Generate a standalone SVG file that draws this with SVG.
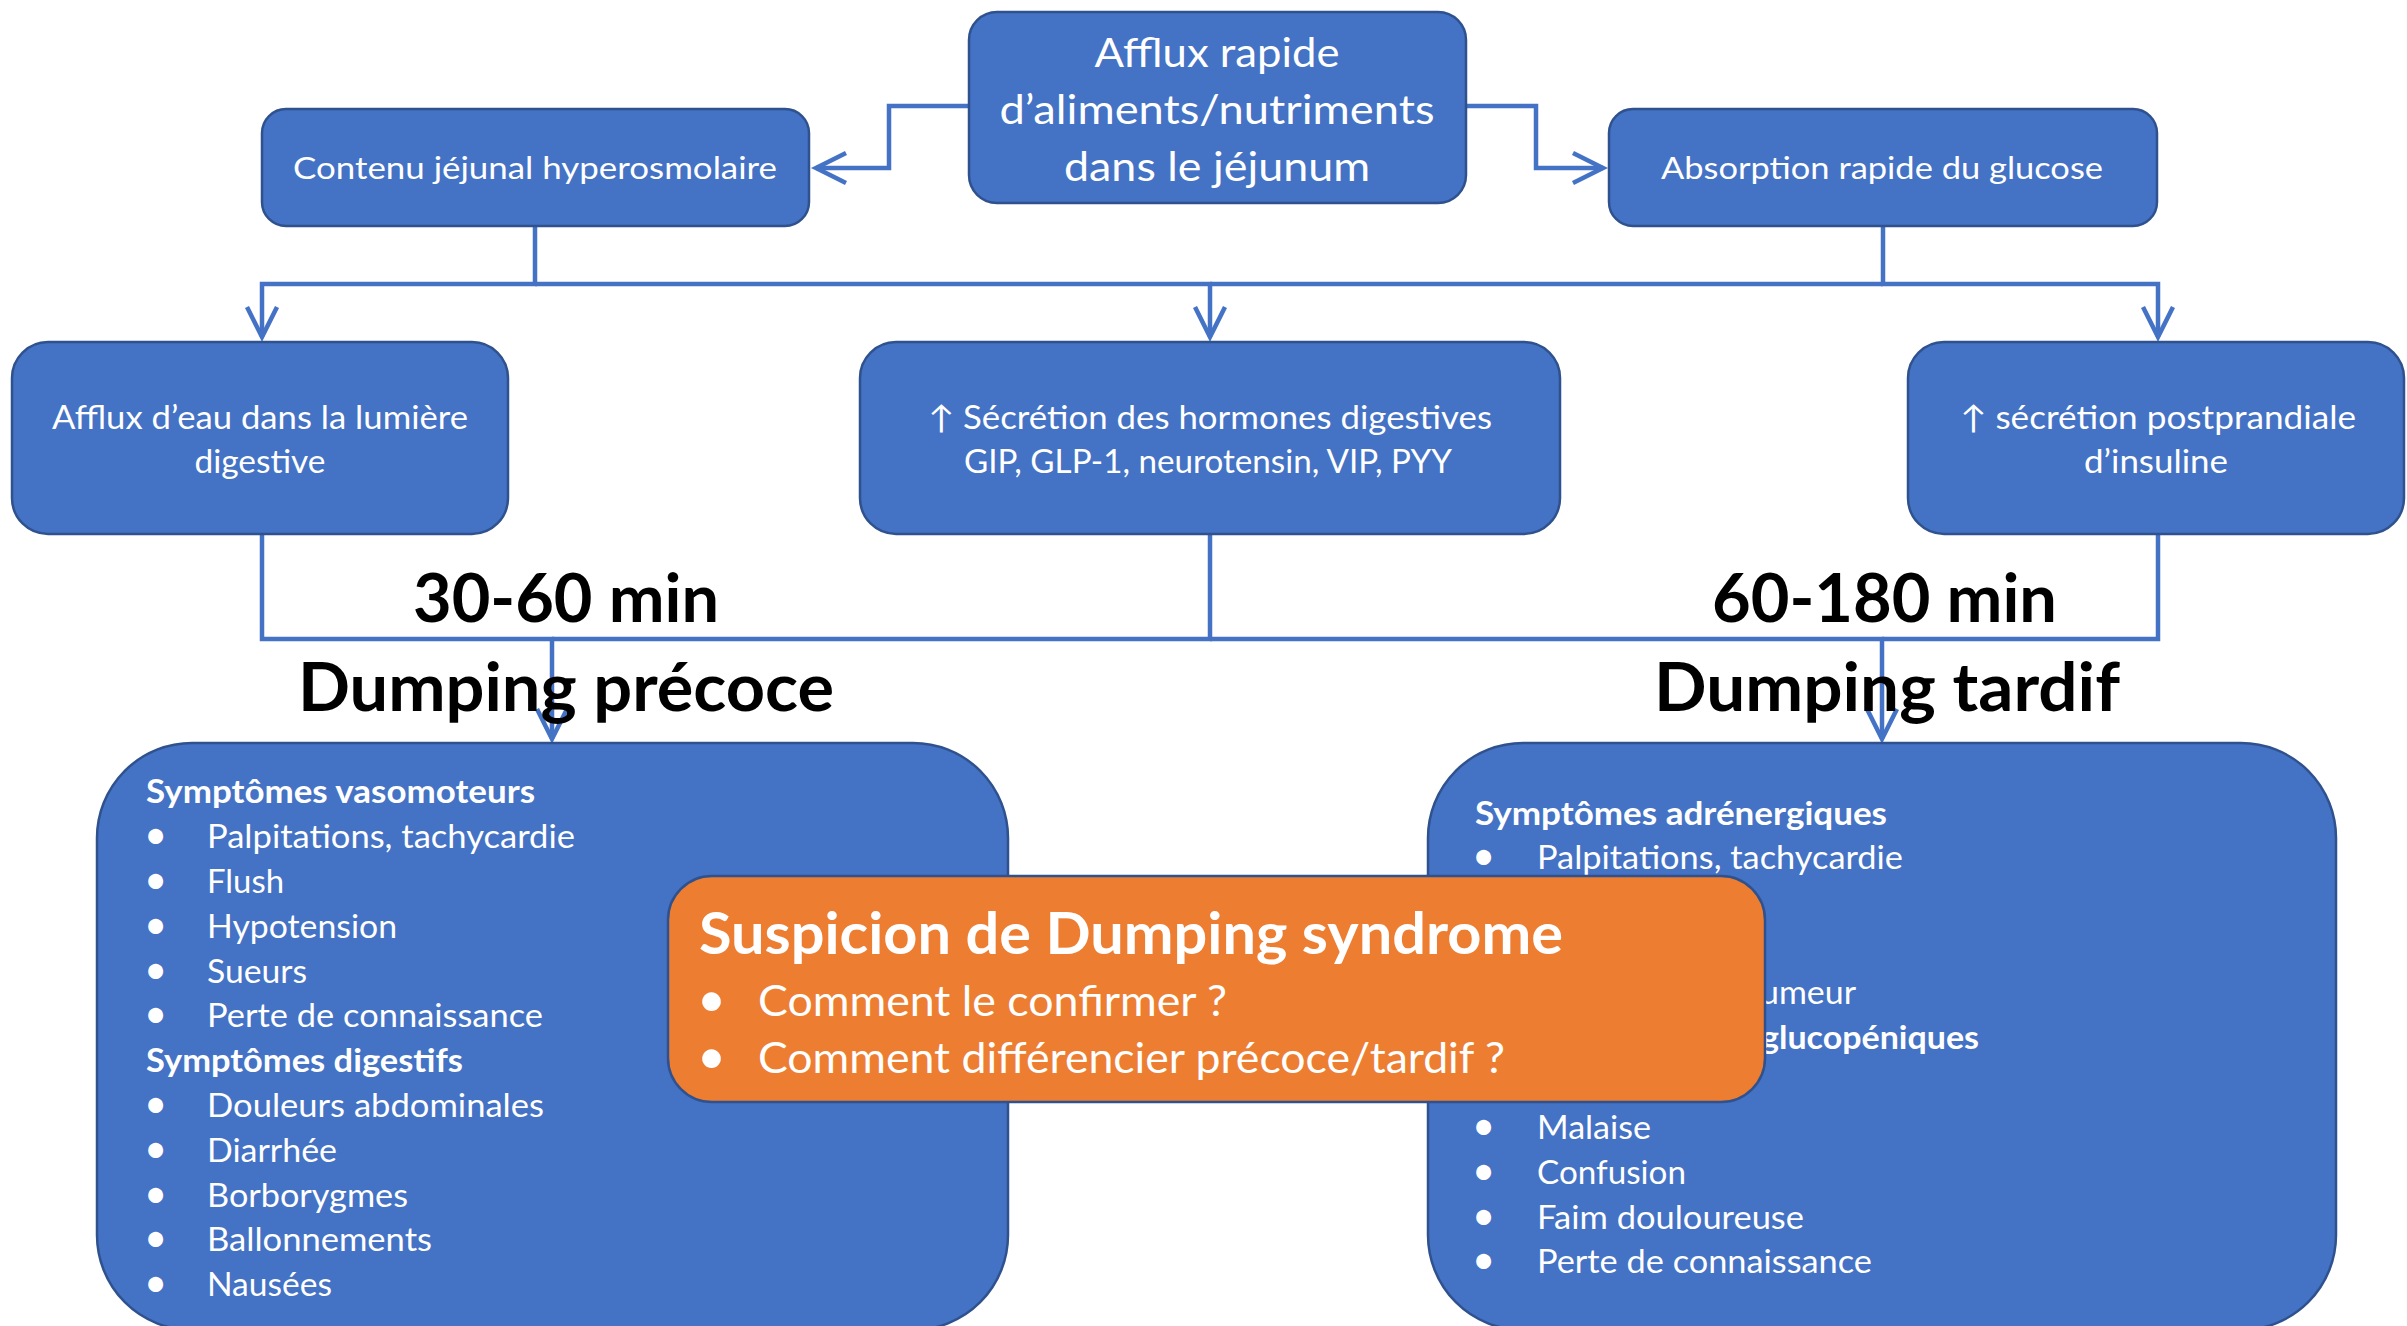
<svg xmlns="http://www.w3.org/2000/svg" width="2407" height="1326" viewBox="0 0 2407 1326">
<style>
.box{fill:#4472C4;stroke:#2F528F;stroke-width:2.5}
.obox{fill:#ED7D31;stroke:#2F528F;stroke-width:2.5}
.t{font-family:Lato,'Noto Sans','DejaVu Sans',sans-serif;fill:#FFFFFF}
.c{text-anchor:middle}
.b{font-weight:bold}
.s{font-size:32px}
.bu{font-size:40px}
.lbl{font-family:Lato,'Noto Sans',sans-serif;font-weight:bold;font-size:67px;fill:#000000}
.con{fill:none;stroke:#4472C4;stroke-width:4.5}
.ar{marker-end:url(#arr)}
</style>
<defs>
<marker id="arr" markerUnits="userSpaceOnUse" markerWidth="44" markerHeight="40" viewBox="-36 -20 44 40" refX="0" refY="0" orient="auto">
<path d="M-30,-15 L0,0 L-30,15" fill="none" stroke="#4472C4" stroke-width="4.5"/>
</marker>
</defs>

<g id="connectors">
<path class="con ar" d="M969,106 H889 V168 H816"/>
<path class="con ar" d="M1466,106 H1536 V168 H1603"/>
<path class="con ar" d="M535,227 V284 H262 V337"/>
<path class="con ar" d="M535,284 H1210 V337"/>
<path class="con ar" d="M1883,227 V284 H2158 V337"/>
<path class="con" d="M1883,284 H1210"/>
<path class="con ar" d="M262,535 V639 H552 V739"/>
<path class="con" d="M552,639 H1210 V535"/>
<path class="con ar" d="M1210,639 H1882 V739"/>
<path class="con" d="M2158,535 V639 H1882"/>
</g>

<g id="node-afflux-rapide">
<rect class="box" x="969" y="12" width="497" height="191" rx="28"/>
<text class="t c" x="1217" y="67" font-size="41" textLength="245" lengthAdjust="spacingAndGlyphs">Afflux rapide</text>
<text class="t c" x="1217" y="124" font-size="41" textLength="435" lengthAdjust="spacingAndGlyphs">d’aliments/nutriments</text>
<text class="t c" x="1217" y="181" font-size="41" textLength="306" lengthAdjust="spacingAndGlyphs">dans le jéjunum</text>
</g>

<g id="node-contenu">
<rect class="box" x="262" y="109" width="547" height="117" rx="24"/>
<text class="t c" x="535" y="179" font-size="31.5" textLength="484" lengthAdjust="spacingAndGlyphs">Contenu jéjunal hyperosmolaire</text>
</g>

<g id="node-absorption">
<rect class="box" x="1609" y="109" width="548" height="117" rx="24"/>
<text class="t c" x="1882" y="179" font-size="31.5" textLength="442" lengthAdjust="spacingAndGlyphs">Absorption rapide du glucose</text>
</g>

<g id="node-afflux-eau">
<rect class="box" x="12" y="342" width="496" height="192" rx="36"/>
<text class="t c s" x="260" y="429" textLength="416" lengthAdjust="spacingAndGlyphs">Afflux d’eau dans la lumière</text>
<text class="t c s" x="260" y="473" textLength="131" lengthAdjust="spacingAndGlyphs">digestive</text>
</g>

<g id="node-hormones">
<rect class="box" x="860" y="342" width="700" height="192" rx="36"/>
<text class="t c s" x="1210" y="429" textLength="564" lengthAdjust="spacingAndGlyphs">↑ Sécrétion des hormones digestives</text>
<text class="t c s" x="1208" y="473" textLength="488" lengthAdjust="spacingAndGlyphs">GIP, GLP-1, neurotensin, VIP, PYY</text>
</g>

<g id="node-insuline">
<rect class="box" x="1908" y="342" width="496" height="192" rx="36"/>
<text class="t c s" x="2158" y="429" textLength="396" lengthAdjust="spacingAndGlyphs">↑ sécrétion postprandiale</text>
<text class="t c s" x="2156" y="473" textLength="144" lengthAdjust="spacingAndGlyphs">d’insuline</text>
</g>

<g id="labels">
<text class="lbl" x="413" y="622" textLength="306" lengthAdjust="spacingAndGlyphs">30-60 min</text>
<text class="lbl" x="1712" y="622" textLength="345" lengthAdjust="spacingAndGlyphs">60-180 min</text>
</g>

<g id="node-precoce">
<rect class="box" x="97" y="743" width="911" height="587" rx="95"/>
<text class="t b s" x="146" y="803" textLength="389" lengthAdjust="spacingAndGlyphs">Symptômes vasomoteurs</text>
<g class="t">
<text class="bu" x="144" y="849">•</text><text class="s" x="207" y="848" textLength="368" lengthAdjust="spacingAndGlyphs">Palpitations, tachycardie</text>
<text class="bu" x="144" y="894">•</text><text class="s" x="207" y="893" textLength="77" lengthAdjust="spacingAndGlyphs">Flush</text>
<text class="bu" x="144" y="939">•</text><text class="s" x="207" y="938" textLength="190" lengthAdjust="spacingAndGlyphs">Hypotension</text>
<text class="bu" x="144" y="984">•</text><text class="s" x="207" y="983" textLength="100" lengthAdjust="spacingAndGlyphs">Sueurs</text>
<text class="bu" x="144" y="1028">•</text><text class="s" x="207" y="1027" textLength="336" lengthAdjust="spacingAndGlyphs">Perte de connaissance</text>
</g>
<text class="t b s" x="146" y="1072" textLength="317" lengthAdjust="spacingAndGlyphs">Symptômes digestifs</text>
<g class="t">
<text class="bu" x="144" y="1118">•</text><text class="s" x="207" y="1117" textLength="337" lengthAdjust="spacingAndGlyphs">Douleurs abdominales</text>
<text class="bu" x="144" y="1163">•</text><text class="s" x="207" y="1162" textLength="130" lengthAdjust="spacingAndGlyphs">Diarrhée</text>
<text class="bu" x="144" y="1208">•</text><text class="s" x="207" y="1207" textLength="201" lengthAdjust="spacingAndGlyphs">Borborygmes</text>
<text class="bu" x="144" y="1252">•</text><text class="s" x="207" y="1251" textLength="225" lengthAdjust="spacingAndGlyphs">Ballonnements</text>
<text class="bu" x="144" y="1297">•</text><text class="s" x="207" y="1296" textLength="125" lengthAdjust="spacingAndGlyphs">Nausées</text>
</g>
</g>

<g id="node-tardif">
<rect class="box" x="1428" y="743" width="908" height="587" rx="95"/>
<text class="t b s" x="1475" y="825" textLength="412" lengthAdjust="spacingAndGlyphs">Symptômes adrénergiques</text>
<g class="t">
<text class="bu" x="1472" y="870">•</text><text class="s" x="1537" y="869" textLength="366" lengthAdjust="spacingAndGlyphs">Palpitations, tachycardie</text>
<text class="s" x="1856" y="1004" text-anchor="end" textLength="96" lengthAdjust="spacingAndGlyphs">umeur</text>
</g>
<text class="t b s" x="1979" y="1049" text-anchor="end" textLength="218" lengthAdjust="spacingAndGlyphs">glucopéniques</text>
<g class="t">
<text class="bu" x="1472" y="1140">•</text><text class="s" x="1537" y="1139" textLength="114" lengthAdjust="spacingAndGlyphs">Malaise</text>
<text class="bu" x="1472" y="1185">•</text><text class="s" x="1537" y="1184" textLength="149" lengthAdjust="spacingAndGlyphs">Confusion</text>
<text class="bu" x="1472" y="1230">•</text><text class="s" x="1537" y="1229" textLength="267" lengthAdjust="spacingAndGlyphs">Faim douloureuse</text>
<text class="bu" x="1472" y="1274">•</text><text class="s" x="1537" y="1273" textLength="335" lengthAdjust="spacingAndGlyphs">Perte de connaissance</text>
</g>
</g>

<g id="dumping-labels">
<text class="lbl" x="298" y="711" textLength="536" lengthAdjust="spacingAndGlyphs">Dumping précoce</text>
<text class="lbl" x="1654" y="711" textLength="466" lengthAdjust="spacingAndGlyphs">Dumping tardif</text>
</g>

<g id="node-suspicion">
<rect class="obox" x="668" y="876" width="1097" height="226" rx="44"/>
<text class="t b" x="699" y="954" font-size="57" textLength="864" lengthAdjust="spacingAndGlyphs">Suspicion de Dumping syndrome</text>
<text class="t" x="697" y="1017" font-size="50">•</text>
<text class="t" x="758" y="1016" font-size="42" textLength="469" lengthAdjust="spacingAndGlyphs">Comment le confirmer ?</text>
<text class="t" x="697" y="1074" font-size="50">•</text>
<text class="t" x="758" y="1073" font-size="42" textLength="747" lengthAdjust="spacingAndGlyphs">Comment différencier précoce/tardif ?</text>
</g>
</svg>
